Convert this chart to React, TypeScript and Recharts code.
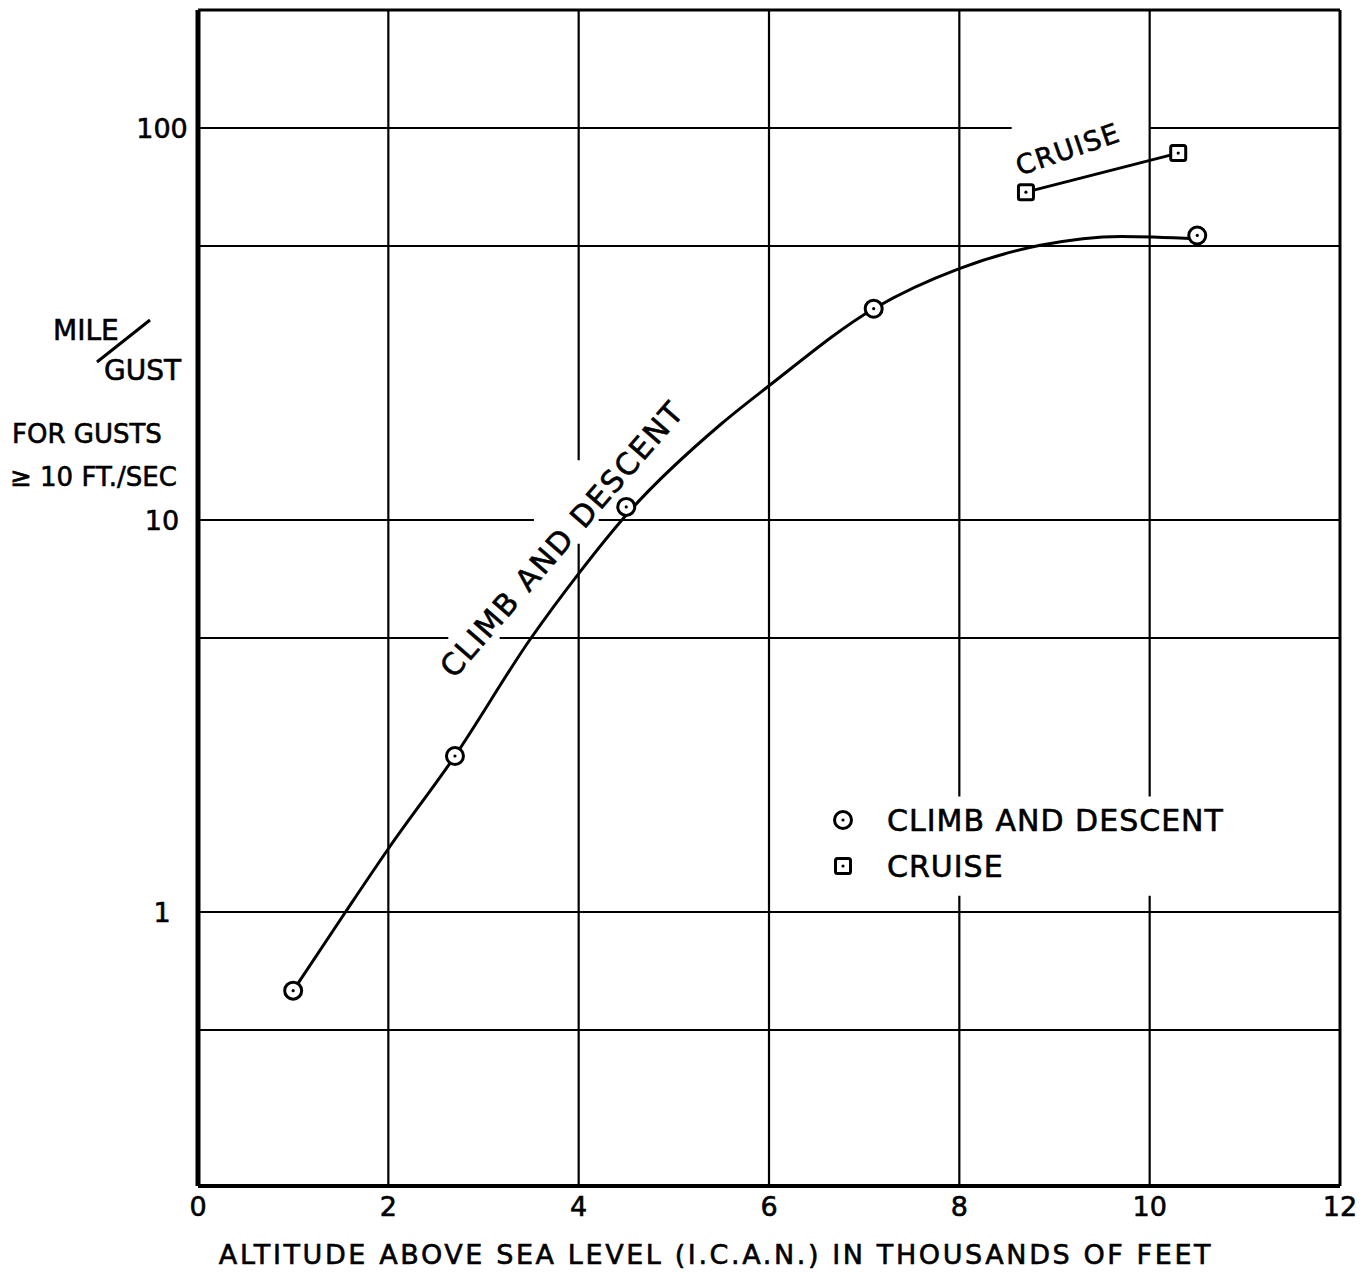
import React from 'react';
import {
  ComposedChart,
  Line,
  Scatter,
  XAxis,
  YAxis,
  ReferenceLine,
} from 'recharts';

// altitude in thousands of feet, miles per gust
const climbPoints = [
  { x: 1.0, y: 0.63 },
  { x: 2.7, y: 2.5 },
  { x: 4.5, y: 10.8 },
  { x: 7.1, y: 34.6 },
  { x: 10.5, y: 53.2 },
];

// faired curve through the climb & descent points
const climbCurve = [
  { x: 1.0, y: 0.63 },
  { x: 1.55, y: 1.0 },
  { x: 2.0, y: 1.45 },
  { x: 2.7, y: 2.5 },
  { x: 3.5, y: 5.0 },
  { x: 4.0, y: 7.3 },
  { x: 4.5, y: 10.3 },
  { x: 5.5, y: 17.6 },
  { x: 6.0, y: 22 },
  { x: 7.1, y: 34.6 },
  { x: 8.0, y: 43.8 },
  { x: 8.85, y: 50.2 },
  { x: 9.7, y: 52.9 },
  { x: 10.5, y: 52.2 },
];

const cruisePoints = [
  { x: 8.7, y: 68.6 },
  { x: 10.3, y: 86.3 },
];

const xTicks = [0, 2, 4, 6, 8, 10, 12];
const yTicks = [1, 10, 100];

// grid lines, split where the drawing leaves room for lettering
const hGrid: [number, number, number][] = [
  [100, 0, 8.55],
  [100, 10, 12],
  [50, 0, 12],
  [10, 0, 3.53],
  [10, 4.21, 12],
  [5, 0, 2.63],
  [5, 3.17, 12],
  [1, 0, 12],
  [0.5, 0, 12],
];
const vGrid: [number, number, number][] = [
  [2, 0.2, 200],
  [4, 0.2, 8.7],
  [4, 14.2, 200],
  [6, 0.2, 200],
  [8, 0.2, 1.1],
  [8, 1.97, 200],
  [10, 0.2, 1.1],
  [10, 1.97, 200],
];

const FONT = '"DejaVu Sans", sans-serif';
const INK = { fill: '#000', stroke: '#000', strokeWidth: 0.6 };

const CircleDot = (props: any) => {
  const { cx, cy } = props;
  return (
    <g>
      <circle cx={cx} cy={cy} r={8.5} fill="#fff" stroke="#000" strokeWidth={3} />
      <circle cx={cx} cy={cy} r={1.6} fill="#000" />
    </g>
  );
};

const SquareDot = (props: any) => {
  const { cx, cy } = props;
  if (cx == null || cy == null) return null;
  return (
    <g>
      <rect x={cx - 7.5} y={cy - 7.5} width={15} height={15} rx={2} fill="#fff" stroke="#000" strokeWidth={3} />
      <circle cx={cx} cy={cy} r={1.6} fill="#000" />
    </g>
  );
};

const XTick = ({ x, y, payload }: any) => (
  <text x={x} y={y + 22} textAnchor="middle" fontSize={27} fontFamily={FONT} {...INK}>
    {payload.value}
  </text>
);

const YTick = ({ y, payload }: any) => (
  <text x={162} y={y + 10} textAnchor="middle" fontSize={27} fontFamily={FONT} {...INK}>
    {payload.value}
  </text>
);

export default function App() {
  return (
    <div style={{ position: 'absolute', left: 0, top: 0, width: 1366, height: 1272, background: '#fff' }}>
      <ComposedChart width={1366} height={1272} margin={{ top: 10, right: 26, left: 0, bottom: 0 }}>
        <XAxis
          type="number"
          dataKey="x"
          domain={[0, 12]}
          ticks={xTicks}
          tick={<XTick />}
          tickLine={false}
          axisLine={{ stroke: '#000', strokeWidth: 4 }}
          height={86}
          allowDataOverflow
        />
        <YAxis
          type="number"
          dataKey="y"
          scale="log"
          domain={[0.2, 200]}
          ticks={yTicks}
          tick={<YTick />}
          tickLine={false}
          axisLine={{ stroke: '#000', strokeWidth: 5 }}
          width={198}
          allowDataOverflow
        />
        {hGrid.map(([y, x1, x2], i) => (
          <ReferenceLine key={`h${i}`} segment={[{ x: x1, y }, { x: x2, y }]} stroke="#000" strokeWidth={2.2} />
        ))}
        {vGrid.map(([x, y1, y2], i) => (
          <ReferenceLine key={`v${i}`} segment={[{ x, y: y1 }, { x, y: y2 }]} stroke="#000" strokeWidth={2.2} />
        ))}
        <ReferenceLine y={200} stroke="#000" strokeWidth={3} />
        <ReferenceLine x={12} stroke="#000" strokeWidth={3} />
        <Line
          data={climbCurve}
          dataKey="y"
          type="monotone"
          stroke="#000"
          strokeWidth={3}
          dot={false}
          activeDot={false}
          isAnimationActive={false}
        />
        <Line
          data={cruisePoints}
          dataKey="y"
          type="linear"
          stroke="#000"
          strokeWidth={3}
          dot={<SquareDot />}
          activeDot={false}
          isAnimationActive={false}
          name="CRUISE"
        />
        <Scatter
          data={climbPoints}
          dataKey="y"
          shape={<CircleDot />}
          isAnimationActive={false}
          name="CLIMB AND DESCENT"
        />
      </ComposedChart>
      <svg
        width={1366}
        height={1272}
        style={{ position: 'absolute', left: 0, top: 0, pointerEvents: 'none' }}
      >
        <g fontFamily={FONT} {...INK}>
          <text x={53} y={340} fontSize={28}>MILE</text>
          <line x1={97} y1={362} x2={150} y2={320} stroke="#000" strokeWidth={3} />
          <text x={104} y={380} fontSize={28}>GUST</text>
          <text x={12} y={443} fontSize={26}>FOR GUSTS</text>
          <text x={10} y={486} fontSize={26}>≥ 10 FT./SEC</text>
          <text
            x={570}
            y={546}
            fontSize={30}
            textAnchor="middle"
            letterSpacing={2}
            transform="rotate(-49 570 546)"
          >
            CLIMB AND DESCENT
          </text>
          <text
            x={1071}
            y={158}
            fontSize={27}
            textAnchor="middle"
            letterSpacing={1.5}
            transform="rotate(-19 1071 158)"
          >
            CRUISE
          </text>
          <text x={716} y={1264} fontSize={27} textAnchor="middle" letterSpacing={2.6}>
            ALTITUDE ABOVE SEA LEVEL (I.C.A.N.) IN THOUSANDS OF FEET
          </text>
        </g>
        {/* legend */}
        <CircleDot cx={843} cy={820} />
        <text x={887} y={831} fontSize={30} fontFamily={FONT} letterSpacing={1} {...INK}>CLIMB AND DESCENT</text>
        <SquareDot cx={843} cy={866} />
        <text x={887} y={877} fontSize={30} fontFamily={FONT} letterSpacing={1} {...INK}>CRUISE</text>
      </svg>
    </div>
  );
}
